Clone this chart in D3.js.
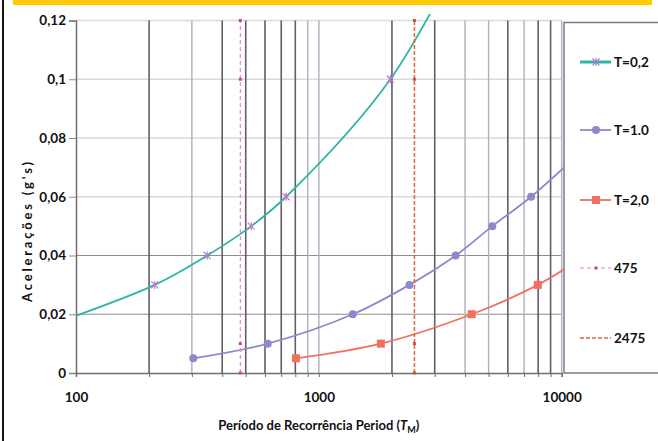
<!DOCTYPE html>
<html><head><meta charset="utf-8">
<script src="https://cdn.jsdelivr.net/npm/d3@7"></script>
<style>
body{margin:0;background:#fff}
svg{display:block}
text{font-family:Lato,"Open Sans",sans-serif;font-weight:700;fill:#111}
</style>
</head><body>
<svg id="c" width="658" height="441"></svg>
<script>
// ---- data ----
const seriesNames = ["T=0,2", "T=1.0", "T=2,0", "475", "2475"];
const periodsT02 = [70, 211, 347, 527, 733, 1970, 4300];
const accelT02   = [0.015, 0.03, 0.04, 0.05, 0.06, 0.10, 0.15];
const periodsT10 = [304, 616, 1380, 2360, 3660, 5180, 7480, 13000];
const accelT10   = [0.005, 0.01, 0.02, 0.03, 0.04, 0.05, 0.06, 0.078];
const periodsT20 = [805, 1800, 4260, 7970, 12500];
const accelT20   = [0.005, 0.01, 0.02, 0.03, 0.04];
const refPeriods = [475, 2475];
const refAccel   = [0, 0.01, 0.10, 0.12];
const xTickLabels = [100, 1000, 10000];
const xGridValues = [200,300,400,500,600,700,800,900,1000,2000,3000,4000,5000,6000,7000,8000,9000,10000];
const yTickValues = [0, 0.02, 0.04, 0.06, 0.08, 0.10, 0.12];

// ---- styles ----
const lightGrid = new Set([300, 900, 1000, 4000, 5000, 7000, 10000]);
const darkHGrid = new Set([0.02, 0.04]);

const svg = d3.select("#c");
const X0 = 76, X1 = 561.7, Y0 = 373, Y1 = 20.5;
const x = d3.scaleLog().domain([100, 10000]).range([X0, X1]);
const y = d3.scaleLinear().domain([0, 0.12]).range([Y0, Y1]);

// frame
svg.append("rect").attr("x", 13).attr("y", 0).attr("width", 639).attr("height", 5).attr("fill", "#ffcc00");
svg.append("line").attr("x1", 3).attr("x2", 3).attr("y1", 0).attr("y2", 441).attr("stroke", "#111").attr("stroke-width", 2);

// horizontal grid
svg.append("g").selectAll("line").data(yTickValues.filter(v => v > 0)).join("line")
  .attr("x1", X0).attr("x2", X1).attr("y1", d => y(d)).attr("y2", d => y(d))
  .attr("stroke", d => darkHGrid.has(d) ? "#8d8d8d" : "#dadada")
  .attr("stroke-width", d => darkHGrid.has(d) ? 1.2 : 1.6);

// vertical grid
svg.append("g").selectAll("line").data(xGridValues).join("line")
  .attr("x1", d => x(d)).attr("x2", d => x(d)).attr("y1", Y1).attr("y2", Y0)
  .attr("stroke", d => lightGrid.has(d) ? "#b3adbd" : "#645c6e")
  .attr("stroke-width", d => lightGrid.has(d) ? 1.4 : 1.6);

// axes
const xAxis = svg.append("g").attr("transform", `translate(0,${Y0})`)
  .call(d3.axisBottom(x).tickValues([100].concat(xGridValues)).tickSize(4)
    .tickFormat(d => xTickLabels.includes(d) ? String(d) : ""));
xAxis.select(".domain").attr("stroke", "#6e6e6e").attr("stroke-width", 1.5);
xAxis.selectAll(".tick line").attr("stroke", "#6e6e6e");
xAxis.selectAll(".tick text").attr("y", 29).attr("dy", 0).style("font-size", "13.5px")
  .style("font-family", "Lato").style("font-weight", 700).attr("fill", "#111");

const yAxis = svg.append("g").attr("transform", `translate(${X0},0)`)
  .call(d3.axisLeft(y).tickValues(yTickValues).tickSize(7).tickPadding(3)
    .tickFormat(d => String(d).replace(".", ",")));
yAxis.select(".domain").attr("stroke", "#6e6e6e").attr("stroke-width", 1.5);
yAxis.selectAll(".tick line").attr("stroke", "#8a8a8a");
yAxis.selectAll(".tick text").style("font-size", "13.5px").style("font-family", "Lato")
  .style("font-weight", 700).attr("fill", "#111");

// clip
svg.append("clipPath").attr("id", "clip").append("rect")
  .attr("x", X0).attr("y", 14).attr("width", 563.5 - X0).attr("height", Y0 + 2 - 14);

const line = d3.line().x(d => x(d[0])).y(d => y(d[1])).curve(d3.curveCatmullRom.alpha(0.5));
const plot = svg.append("g").attr("clip-path", "url(#clip)");

const starPath = "M-3.5,-3.5L3.5,3.5M-3.5,3.5L3.5,-3.5M0,-4L0,4";
const series = [
  {name: seriesNames[0], p: periodsT02, a: accelT02, color: "#2eb5a6", marker: "star", mcolor: "#b47ccf"},
  {name: seriesNames[1], p: periodsT10, a: accelT10, color: "#8d89cc", marker: "circle", mcolor: "#8d89cc"},
  {name: seriesNames[2], p: periodsT20, a: accelT20, color: "#f1705f", marker: "square", mcolor: "#f1705f"}
];

function drawMarker(g, type, color) {
  if (type === "star") g.append("path").attr("d", starPath).attr("stroke", color).attr("stroke-width", 1.2).attr("fill", "none");
  else if (type === "circle") g.append("circle").attr("r", 4).attr("fill", color);
  else if (type === "square") g.append("rect").attr("x", -4).attr("y", -4).attr("width", 8).attr("height", 8).attr("fill", color);
  else if (type === "dot") g.append("rect").attr("x", -1.5).attr("y", -1.5).attr("width", 3).attr("height", 3).attr("fill", color);
}

// reference dashed lines
const refs = [
  {name: seriesNames[3], period: refPeriods[0], color: "#e48bc3", mcolor: "#d6409c", dash: "4,3", w: 1.2},
  {name: seriesNames[4], period: refPeriods[1], color: "#d8673f", mcolor: "#c9552f", dash: "4,2", w: 1.5}
];
refs.forEach(r => {
  const pts = refAccel.map(a => [r.period, a]);
  svg.append("path").attr("d", d3.line().x(d => x(d[0])).y(d => y(d[1]))(pts))
    .attr("fill", "none").attr("stroke", r.color).attr("stroke-width", r.w).attr("stroke-dasharray", r.dash);
  pts.forEach(pt => {
    const g = svg.append("g").attr("transform", `translate(${x(pt[0])},${y(pt[1])})`);
    drawMarker(g, "dot", r.mcolor);
  });
});

series.forEach(s => {
  const pts = s.p.map((p, i) => [p, s.a[i]]);
  plot.append("path").attr("d", line(pts)).attr("fill", "none").attr("stroke", s.color).attr("stroke-width", 1.8);
  pts.forEach(pt => {
    const g = plot.append("g").attr("transform", `translate(${x(pt[0])},${y(pt[1])})`);
    drawMarker(g, s.marker, s.mcolor);
  });
});

// axis titles
const xt = svg.append("text").attr("x", (X0 + X1) / 2).attr("y", 430).attr("text-anchor", "middle").style("font-size", "13px");
xt.append("tspan").text("Período de Recorrência Period (");
xt.append("tspan").attr("font-style", "italic").text("T");
xt.append("tspan").attr("font-size", "9px").attr("dy", 3).text("M");
xt.append("tspan").attr("dy", -3).text(")");

svg.append("text").attr("transform", "translate(31.5,232) rotate(-90)").attr("text-anchor", "middle")
  .style("font-size", "13px").attr("textLength", 140).attr("lengthAdjust", "spacing")
  .text("Acelerações (g's)");

// legend
svg.append("rect").attr("x", 564).attr("y", 22.5).attr("width", 120).attr("height", 350.5)
  .attr("fill", "#fff").attr("stroke", "#7f778a").attr("stroke-width", 1.5);
const legY = [62, 130, 200, 268, 338];
const legItems = [
  {s: series[0], w: 3, dash: null, m: "star"},
  {s: series[1], w: 1.8, dash: null, m: "circle"},
  {s: series[2], w: 1.8, dash: null, m: "square"},
  {s: {name: refs[0].name, color: refs[0].color, mcolor: refs[0].mcolor}, w: 1.2, dash: refs[0].dash, m: "dot"},
  {s: {name: refs[1].name, color: refs[1].color, mcolor: refs[1].mcolor}, w: 1.5, dash: refs[1].dash, m: null}
];
legItems.forEach((it, i) => {
  const g = svg.append("g").attr("transform", `translate(0,${legY[i]})`);
  g.append("line").attr("x1", 580).attr("x2", 611).attr("stroke", it.s.color).attr("stroke-width", it.w)
    .attr("stroke-dasharray", it.dash);
  if (it.m) {
    const mg = g.append("g").attr("transform", "translate(596,0)");
    drawMarker(mg, it.m, it.s.mcolor);
  }
  g.append("text").attr("x", 614).attr("y", 0).attr("dy", "0.36em").style("font-size", "13.5px").text(it.s.name);
});
</script>
</body></html>
